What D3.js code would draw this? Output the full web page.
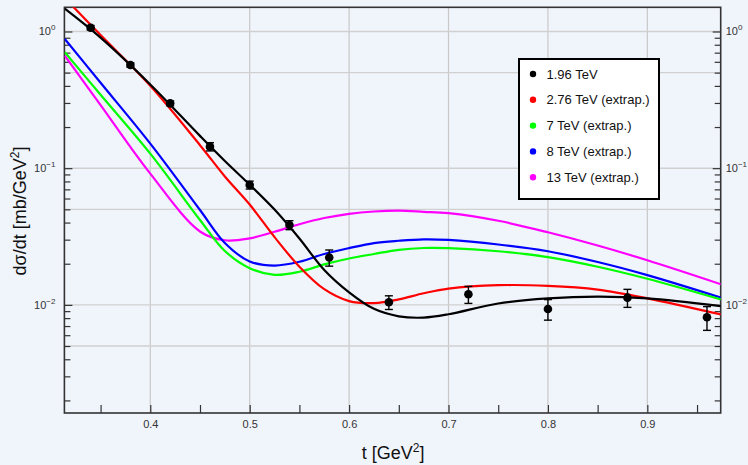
<!DOCTYPE html>
<html>
<head>
<meta charset="utf-8">
<script src="https://cdn.jsdelivr.net/npm/d3@7"></script>
<style>
  body { margin: 0; background: #f0f4fb; }
  svg { display: block; font-family: "Liberation Sans", Arial, sans-serif; }
</style>
</head>
<body>
<svg id="chart" width="748" height="465"></svg>
<script>
// measured points (1.96 TeV)
const tData = [0.34, 0.38, 0.42, 0.46, 0.50, 0.54, 0.58, 0.64, 0.72, 0.80, 0.88, 0.96];
const sigData = [1.066, 0.569, 0.298, 0.1437, 0.0754, 0.0384, 0.0222, 0.01045, 0.01195, 0.00933, 0.01129, 0.00811];
const errData = [0.04, 0.02, 0.012, 0.01, 0.005, 0.0029, 0.003, 0.0012, 0.0017, 0.0016, 0.0017, 0.0016];

// model curves, sampled on a common t grid
const tGrid = [0.314, 0.35, 0.40, 0.45, 0.475, 0.50, 0.525, 0.55, 0.575, 0.60, 0.625, 0.65, 0.675, 0.70, 0.75, 0.80, 0.85, 0.90, 0.974];
const curve196 = [1.470, 0.902, 0.410, 0.1723, 0.1129, 0.0757, 0.0498, 0.0306, 0.0180, 0.01235, 0.00935, 0.00825, 0.00807, 0.00854, 0.01024, 0.01114, 0.01148, 0.01117, 0.0098];
const curve276 = [1.758, 0.941, 0.4006, 0.1473, 0.0870, 0.0542, 0.03133, 0.01903, 0.01302, 0.01066, 0.01031, 0.01097, 0.01216, 0.01316, 0.01393, 0.01377, 0.01294, 0.01117, 0.00851];
const curve7 = [0.7045, 0.3442, 0.1277, 0.04179, 0.02479, 0.01856, 0.01657, 0.01746, 0.01978, 0.02185, 0.02357, 0.02529, 0.02607, 0.02598, 0.02467, 0.02234, 0.0190, 0.01552, 0.01095];
const curve8 = [0.883, 0.4213, 0.1511, 0.04944, 0.02836, 0.02077, 0.01939, 0.02067, 0.02357, 0.02603, 0.02832, 0.02944, 0.03014, 0.02984, 0.02765, 0.02467, 0.0206, 0.01652, 0.01131];
const curve13 = [0.6652, 0.2894, 0.0912, 0.03443, 0.0297, 0.03066, 0.03425, 0.03893, 0.04322, 0.04638, 0.04822, 0.04888, 0.04798, 0.04686, 0.04123, 0.03397, 0.02719, 0.0212, 0.01415];

const seriesNames = ["1.96 TeV", "2.76 TeV (extrap.)", "7 TeV (extrap.)", "8 TeV (extrap.)", "13 TeV (extrap.)"];
const seriesColors = ["#000000", "#ff0000", "#00ff00", "#0000ff", "#ff00ff"];
const seriesCurves = [curve196, curve276, curve7, curve8, curve13];

const xTicks = [0.4, 0.5, 0.6, 0.7, 0.8, 0.9];
const xMinorTicks = [0.35, 0.45, 0.55, 0.65, 0.75, 0.85, 0.95];
const yDecades = [0, -1, -2];

const svg = d3.select("#chart");
const margin = { top: 7.3, right: 27.3, bottom: 52, left: 64.4 };
const width = 748 - margin.left - margin.right;
const height = 465 - margin.top - margin.bottom;

const x = d3.scaleLinear().domain([0.3136, 0.9738]).range([0, width]);
const y = d3.scaleLog().domain([0.001618, 1.503]).range([height, 0]);

const g = svg.append("g").attr("transform", `translate(${margin.left},${margin.top})`);

g.append("clipPath").attr("id", "clip")
  .append("rect").attr("width", width).attr("height", height);

// grid
const yGrid = [];
yDecades.forEach(e => { yGrid.push(Math.pow(10, e)); yGrid.push(5 * Math.pow(10, e - 1)); });
g.append("g").selectAll("line.vg").data(xTicks).enter().append("line")
  .attr("x1", d => x(d)).attr("x2", d => x(d)).attr("y1", 0).attr("y2", height)
  .attr("stroke", "#c8c8c8").attr("stroke-width", 1.2);
g.append("g").selectAll("line.hg").data(yGrid).enter().append("line")
  .attr("x1", 0).attr("x2", width).attr("y1", d => y(d)).attr("y2", d => y(d))
  .attr("stroke", "#d0d0d0").attr("stroke-width", 1.4);

// axes
const yMinor = [];
[-3, -2, -1, 0].forEach(e => {
  for (let k = 2; k <= 9; k++) {
    const v = k * Math.pow(10, e);
    if (v > y.domain()[0] && v < y.domain()[1]) yMinor.push(v);
  }
});
const yMajor = yDecades.map(e => Math.pow(10, e));

function styleAxis(sel) {
  sel.select(".domain").remove();
  sel.selectAll(".tick line").attr("stroke", "#333").attr("stroke-width", 1.2);
  sel.selectAll(".tick text").attr("fill", "#333").attr("font-size", 11)
    .attr("font-family", "'Liberation Sans', Arial, sans-serif");
}

g.append("g").attr("transform", `translate(0,${height})`)
  .call(d3.axisBottom(x).tickValues(xTicks).tickSize(-8).tickPadding(7).tickFormat(d3.format(".1f")))
  .call(styleAxis);
g.append("g").attr("transform", `translate(0,${height})`)
  .call(d3.axisBottom(x).tickValues(xMinorTicks).tickSize(-8).tickFormat(""))
  .call(styleAxis);

g.append("g").call(d3.axisLeft(y).tickValues(yMajor).tickSize(-8).tickFormat("")).call(styleAxis);
g.append("g").call(d3.axisLeft(y).tickValues(yMinor).tickSize(-6).tickFormat("")).call(styleAxis);
g.append("g").attr("transform", `translate(${width},0)`)
  .call(d3.axisRight(y).tickValues(yMajor).tickSize(-8).tickFormat("")).call(styleAxis);
g.append("g").attr("transform", `translate(${width},0)`)
  .call(d3.axisRight(y).tickValues(yMinor).tickSize(-6).tickFormat("")).call(styleAxis);

// power-of-ten labels, both sides
function powLabel(sel, anchor, xpos) {
  const t = sel.append("text")
    .attr("x", xpos).attr("y", d => y(Math.pow(10, d)) + 4)
    .attr("text-anchor", anchor).attr("fill", "#333").attr("font-size", 11);
  t.append("tspan").text("10");
  t.append("tspan").attr("dy", -5).attr("font-size", 8).text(d => d === 0 ? "0" : "\u2212" + (-d));
}
g.append("g").selectAll("g").data(yDecades).enter().append("g").call(powLabel, "end", -9);
g.append("g").selectAll("g").data(yDecades).enter().append("g").call(powLabel, "start", width + 5);

// frame
g.append("rect").attr("width", width).attr("height", height)
  .attr("fill", "none").attr("stroke", "#333").attr("stroke-width", 1.6);

// curves
const line = d3.line()
  .x((d, i) => x(tGrid[i]))
  .y(d => y(d))
  .curve(d3.curveCatmullRom.alpha(0.5));

const curves = g.append("g").attr("clip-path", "url(#clip)");
[4, 3, 2, 1, 0].forEach(i => {
  curves.append("path").datum(seriesCurves[i])
    .attr("d", line)
    .attr("fill", "none")
    .attr("stroke", seriesColors[i])
    .attr("stroke-width", 2.2);
});

// data points with error bars
const pts = g.append("g").selectAll("g").data(tData.map((t, i) => ({ t, s: sigData[i], e: errData[i] })))
  .enter().append("g");
pts.append("line")
  .attr("x1", d => x(d.t)).attr("x2", d => x(d.t))
  .attr("y1", d => y(d.s + d.e)).attr("y2", d => y(d.s - d.e))
  .attr("stroke", "#000").attr("stroke-width", 1.4);
pts.append("line")
  .attr("x1", d => x(d.t) - 4).attr("x2", d => x(d.t) + 4)
  .attr("y1", d => y(d.s + d.e)).attr("y2", d => y(d.s + d.e))
  .attr("stroke", "#000").attr("stroke-width", 1.4);
pts.append("line")
  .attr("x1", d => x(d.t) - 4).attr("x2", d => x(d.t) + 4)
  .attr("y1", d => y(d.s - d.e)).attr("y2", d => y(d.s - d.e))
  .attr("stroke", "#000").attr("stroke-width", 1.4);
pts.append("circle")
  .attr("cx", d => x(d.t)).attr("cy", d => y(d.s)).attr("r", 4.3)
  .attr("fill", "#000");

// legend
const legend = svg.append("g").attr("transform", "translate(519,59)");
legend.append("rect").attr("width", 140).attr("height", 140)
  .attr("fill", "#fff").attr("stroke", "#000").attr("stroke-width", 2);
const entries = legend.selectAll("g.entry").data(seriesNames).enter().append("g")
  .attr("transform", (d, i) => `translate(0,${15 + i * 25.8})`);
entries.append("circle").attr("cx", 14).attr("cy", 0).attr("r", 3.2)
  .attr("fill", (d, i) => seriesColors[i]);
entries.append("text").attr("x", 27.5).attr("y", 0).attr("dy", "0.36em")
  .attr("font-size", 13).attr("fill", "#111").text(d => d);

// axis titles
svg.append("text")
  .attr("x", margin.left + x(0.6443)).attr("y", 459)
  .attr("text-anchor", "middle").attr("font-size", 18).attr("fill", "#111")
  .call(t => {
    t.append("tspan").text("t [GeV");
    t.append("tspan").attr("dy", -7).attr("font-size", 12).text("2");
    t.append("tspan").attr("dy", 7).text("]");
  });

svg.append("text")
  .attr("transform", "translate(26,211) rotate(-90)")
  .attr("text-anchor", "middle").attr("font-size", 18).attr("fill", "#111")
  .call(t => {
    t.append("tspan").text("d\u03c3/dt [mb/GeV");
    t.append("tspan").attr("dy", -7).attr("font-size", 12).text("2");
    t.append("tspan").attr("dy", 7).text("]");
  });
</script>
</body>
</html>
